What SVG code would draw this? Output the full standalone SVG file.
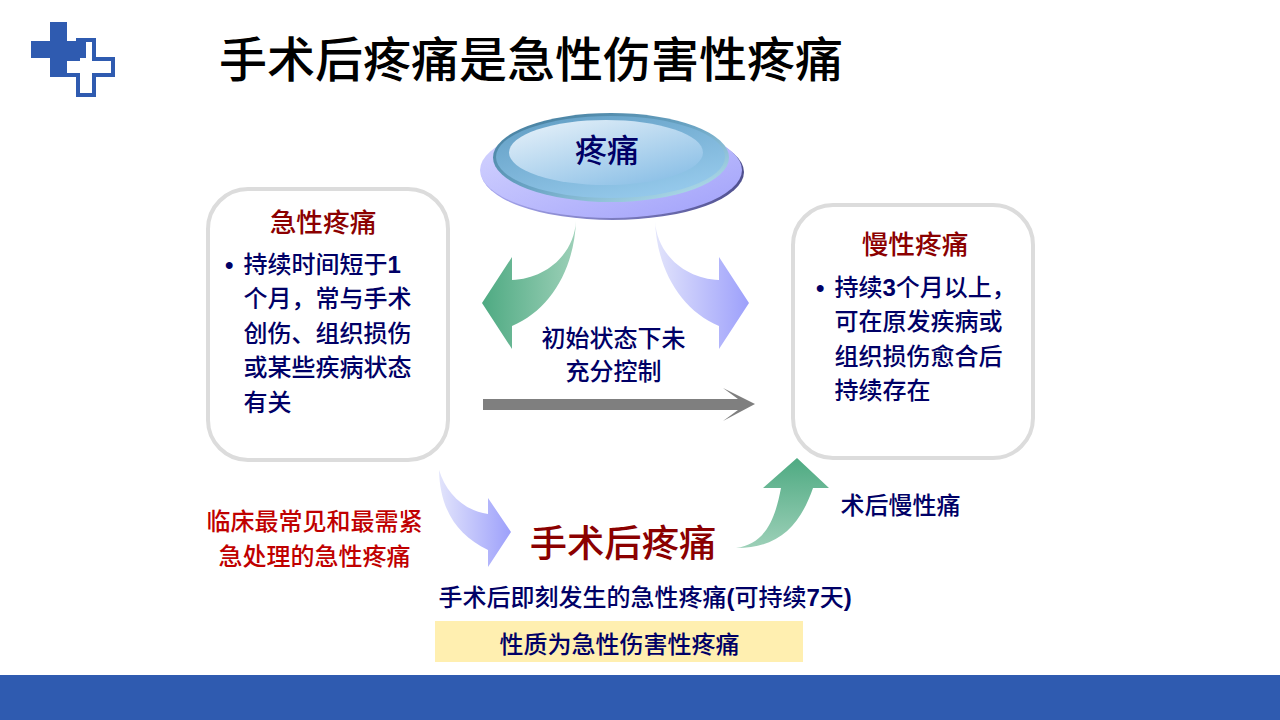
<svg xmlns="http://www.w3.org/2000/svg" width="1280" height="720" viewBox="0 0 1280 720">
<style>
text{font-family:"Noto Sans CJK SC","Liberation Sans",sans-serif;font-weight:500}
.l{font-family:"Liberation Sans",sans-serif;font-weight:700}
.navy{fill:#000066;font-size:24px}
.dr{fill:#8b0000}
.red{fill:#c00000;font-size:24px}
.box{fill:#fff;stroke:#dcdcdc;stroke-width:4}
</style>
<defs>
<linearGradient id="gl" x1="0" y1="0" x2="1" y2="0"><stop offset="0" stop-color="#4eaa82"/><stop offset="1" stop-color="#9dd0b8"/></linearGradient>
<linearGradient id="gu" x1="0" y1="0" x2="0" y2="1"><stop offset="0" stop-color="#4eaa82"/><stop offset="1" stop-color="#9dd0b8"/></linearGradient>
<linearGradient id="br" x1="0" y1="0" x2="1" y2="0"><stop offset="0" stop-color="#e2e4fb"/><stop offset="1" stop-color="#9da0fb"/></linearGradient>
<linearGradient id="d0" x1="0" y1="0" x2="1" y2="0"><stop offset="0" stop-color="#a8a8f0"/><stop offset="1" stop-color="#50508f"/></linearGradient>
<linearGradient id="d1" x1="0" y1="0" x2="1" y2="1"><stop offset="0" stop-color="#d8d8ff"/><stop offset="1" stop-color="#a0a0fa"/></linearGradient>
<linearGradient id="d2" x1="0" y1="0" x2="1" y2="1"><stop offset="0" stop-color="#3f7898"/><stop offset="0.5" stop-color="#6aa4c4"/><stop offset="1" stop-color="#c0e8f2"/></linearGradient>
<linearGradient id="d4" x1="0" y1="0" x2="0.600" y2="1"><stop offset="0" stop-color="#5f9cc2"/><stop offset="1" stop-color="#94c8ea"/></linearGradient>
<linearGradient id="d3" x1="0" y1="0" x2="0.800" y2="1"><stop offset="0" stop-color="#eaf3fa"/><stop offset="1" stop-color="#8abfe6"/></linearGradient>
</defs>
<rect width="1280" height="720" fill="#fff"/>
<rect x="0" y="675" width="1280" height="45" fill="#2f5bb0"/>
<g id="logo">
<path d="M78 40H94V59H113V75H94V95H78V75H60V59H78Z" fill="#fff" stroke="#2f5bb0" stroke-width="4"/>
<path d="M50 22H67V41H86V58H67V77H50V58H31V41H50Z" fill="#2f5bb0"/>
</g>
<text x="219" y="77" font-size="48" fill="#000">手术后疼痛是急性伤害性疼痛</text>
<g id="connectors">
<path d="M576 221C574 255 545 279 512 280V257L482 303L512 349V326C550 310 574 270 576 221Z" fill="url(#gl)"/>
<path d="M655 221C657 255 686 279 719 280V257L749 303L719 349V326C681 310 657 270 655 221Z" fill="url(#br)"/>
<path d="M439 470C446 492 462 510 488 514V498L511 532L488 567V550C457 535 440 510 439 470Z" fill="url(#br)"/>
<path d="M736 548C765 544 775 520 781 488H763L797 458L829 488H813C800 525 780 548 736 548Z" fill="url(#gu)"/>
<path d="M483 399H738L723 388L755 404L723 421L738 410H483Z" fill="#7f7f7f"/>
</g>
<g id="pain">
<ellipse cx="612.500" cy="172" rx="131.500" ry="48" fill="url(#d0)"/>
<ellipse cx="611" cy="170" rx="131" ry="48" fill="url(#d1)"/>
<ellipse cx="611" cy="157.500" rx="118" ry="44.500" fill="url(#d2)"/>
<ellipse cx="610.500" cy="157" rx="114.500" ry="41" fill="url(#d4)"/>
<ellipse cx="606" cy="152.500" rx="97" ry="32.500" fill="url(#d3)"/>
<text x="607" y="162" font-size="32" fill="#000066" text-anchor="middle">疼痛</text>
</g>
<g id="acute">
<rect x="208" y="189" width="240" height="271" rx="40" class="box"/>
<text x="323" y="232" font-size="26.700" class="dr" text-anchor="middle">急性疼痛</text>
<text x="225" y="273" class="navy l">•</text>
<text x="243.500" y="273" class="navy">持续时间短于<tspan class="l">1</tspan></text>
<text x="243.500" y="307" class="navy">个月，常与手术</text>
<text x="243.500" y="342" class="navy">创伤、组织损伤</text>
<text x="243.500" y="376" class="navy">或某些疾病状态</text>
<text x="243.500" y="411" class="navy">有关</text>
</g>
<g id="chronic">
<rect x="793" y="205" width="240" height="253" rx="40" class="box"/>
<text x="915" y="254" font-size="26.700" class="dr" text-anchor="middle">慢性疼痛</text>
<text x="816" y="296" class="navy l">•</text>
<text x="834.500" y="296" class="navy">持续<tspan class="l">3</tspan>个月以上，</text>
<text x="834.500" y="330" class="navy">可在原发疾病或</text>
<text x="834.500" y="365" class="navy">组织损伤愈合后</text>
<text x="834.500" y="399" class="navy">持续存在</text>
</g>
<text x="613.500" y="347" class="navy" text-anchor="middle">初始状态下未</text>
<text x="613.500" y="380" class="navy" text-anchor="middle">充分控制</text>
<text x="900.500" y="514" class="navy" text-anchor="middle">术后慢性痛</text>
<text x="314.500" y="530" class="red" text-anchor="middle">临床最常见和最需紧</text>
<text x="314.500" y="565" class="red" text-anchor="middle">急处理的急性疼痛</text>
<g id="postop">
<text x="623" y="557" font-size="37.300" class="dr" text-anchor="middle">手术后疼痛</text>
<text x="438.500" y="606" class="navy">手术后即刻发生的急性疼痛<tspan class="l">(</tspan>可持续<tspan class="l">7</tspan>天<tspan class="l">)</tspan></text>
</g>
<g id="nature">
<rect x="435" y="621" width="368" height="41" fill="#ffefb0"/>
<text x="619.500" y="653" class="navy" text-anchor="middle">性质为急性伤害性疼痛</text>
</g>
</svg>
